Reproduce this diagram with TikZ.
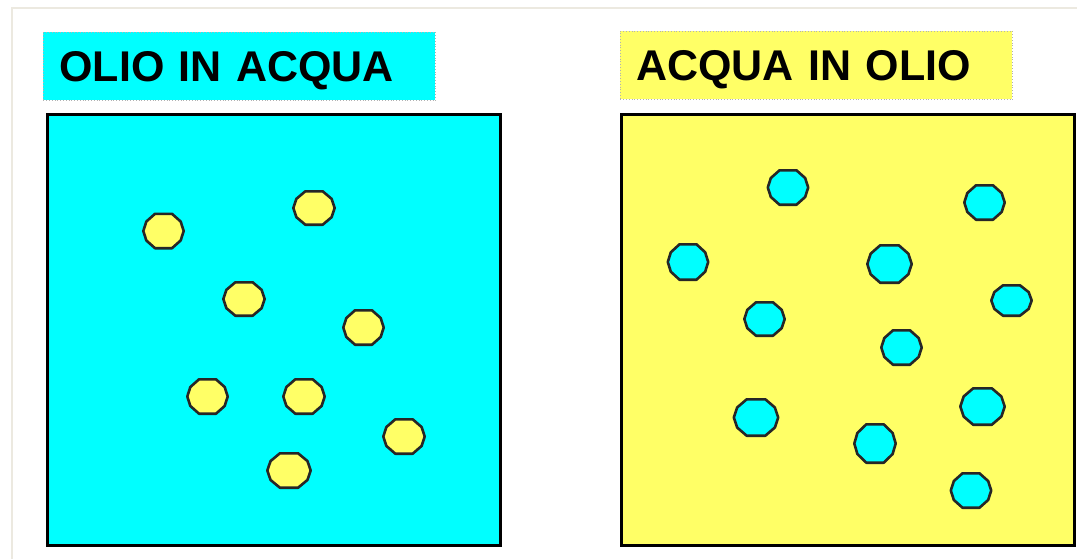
\documentclass[tikz,border=0pt]{standalone}
\usepackage{fontspec}
\setmainfont{Liberation Sans}
\usetikzlibrary{positioning}
\definecolor{acqua}{RGB}{0,255,255}
\definecolor{olio}{RGB}{255,255,102}
\definecolor{cornice}{RGB}{236,233,224}

\begin{document}
\begin{tikzpicture}[x=0.5pt,y=-0.5pt,
  titolo/.style={draw=gray!60, densely dotted, line width=0.4pt, anchor=north west,
    inner xsep=8pt, text width=180pt, minimum height=34pt, align=left,
    text height=15.4pt, text depth=0pt, font=\fontsize{21.5}{24}\selectfont\bfseries},
  vasca/.style={draw=black, line width=1.5pt},
  goccia/.style={draw=black!85, line width=1.3pt, line join=round}]
\useasboundingbox (0,0) rectangle (1077,559);
% cornice
\draw[cornice, line width=1pt] (12,559) |- (1077,8);

% titoli
\node[titolo, fill=acqua] (titolosx) at (43,32) {OLIO IN ACQUA};
\node[titolo, fill=olio] (titolodx) at (620,31) {ACQUA IN OLIO};

% vasche
\draw[vasca, fill=acqua] (47,114.5) rectangle (500,545);
\draw[vasca, fill=olio] (621.5,114.5) rectangle (1074,545);

% gocce di olio
\foreach \cx/\cy/\w/\h [evaluate=\w as \a using \w/2-1.3, evaluate=\h as \b using \h/2-1.3] in
  {163.5/231/43/37, 314/208/44/36, 244/299/44/36, 363.5/327.5/43/37,
   207.5/396.5/43/37, 304/396.5/44/37, 404/436.5/44/37, 289/470.5/46/37}
  \draw[goccia, fill=olio, shift={(\cx,\cy)}] (-0.42*\a,-\b) -- (0.42*\a,-\b) -- (0.85*\a,-0.55*\b)
    -- (\a,0) -- (0.85*\a,0.55*\b) -- (0.42*\a,\b) -- (-0.42*\a,\b) -- (-0.85*\a,0.55*\b)
    -- (-\a,0) -- (-0.85*\a,-0.55*\b) -- cycle;

% gocce di acqua
\foreach \cx/\cy/\w/\h [evaluate=\w as \a using \w/2-1.3, evaluate=\h as \b using \h/2-1.3] in
  {788/187.5/43/37, 984.5/202.5/43/37, 688/262/43/38, 889.5/264/47/40,
   1011.5/300.5/43/33, 764.5/319/43/36, 901.5/347.5/43/37, 756/417.5/47/39,
   982.5/406.5/47/39, 875/443.5/44/41, 971/490.5/43/37}
  \draw[goccia, fill=acqua, shift={(\cx,\cy)}] (-0.42*\a,-\b) -- (0.42*\a,-\b) -- (0.85*\a,-0.55*\b)
    -- (\a,0) -- (0.85*\a,0.55*\b) -- (0.42*\a,\b) -- (-0.42*\a,\b) -- (-0.85*\a,0.55*\b)
    -- (-\a,0) -- (-0.85*\a,-0.55*\b) -- cycle;
\end{tikzpicture}
\end{document}
